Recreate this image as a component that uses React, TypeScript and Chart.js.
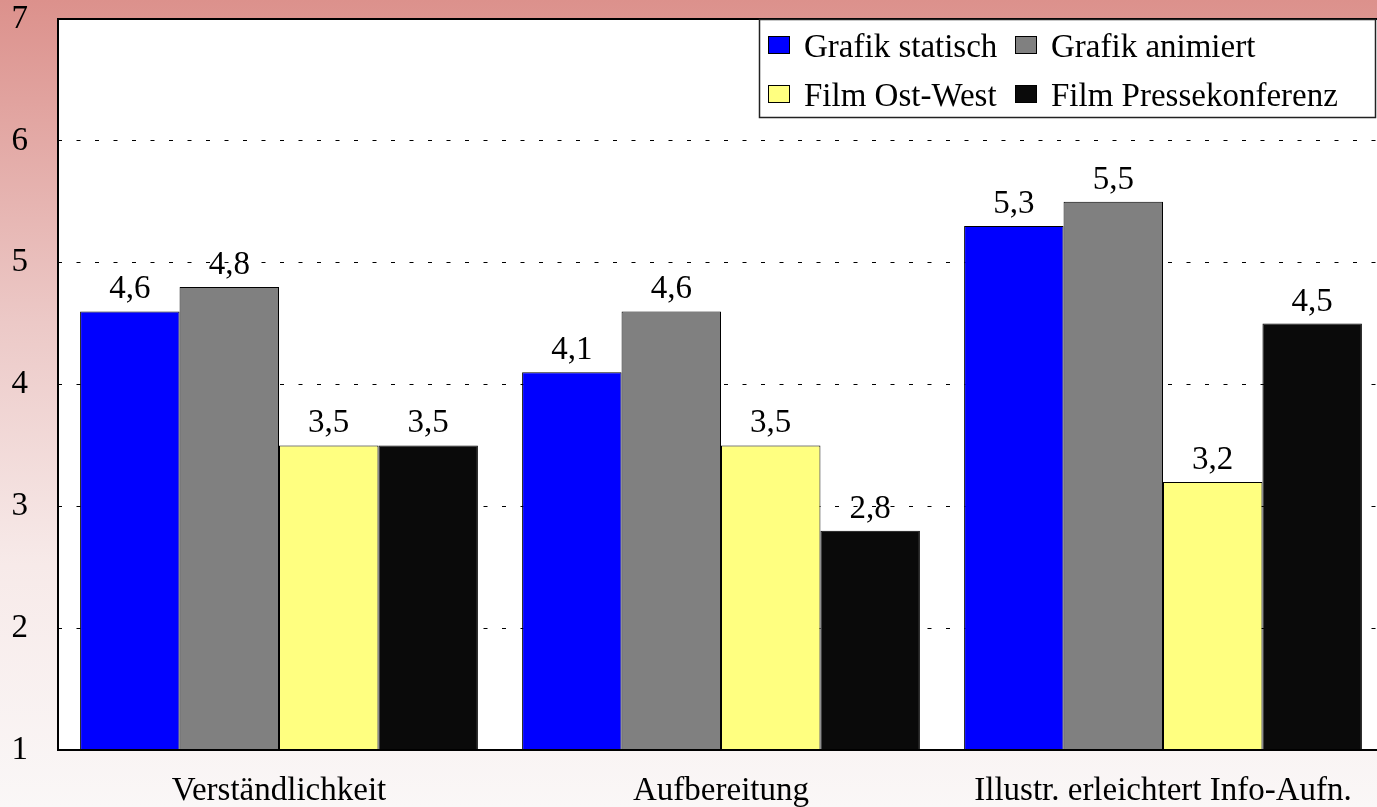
import React, { useEffect, useRef } from "react";
import { Chart, registerables } from "chart.js";

Chart.register(...registerables);

const categories = ["Verständlichkeit", "Aufbereitung", "Illustr. erleichtert Info-Aufn."];
const seriesNames = ["Grafik statisch", "Grafik animiert", "Film Ost-West", "Film Pressekonferenz"];
const grafikStatisch = [4.6, 4.1, 5.3];
const grafikAnimiert = [4.8, 4.6, 5.5];
const filmOstWest = [3.5, 3.5, 3.2];
const filmPressekonferenz = [3.5, 2.8, 4.5];
const seriesColors = ["#0000FF", "#808080", "#FFFF80", "#0A0A0A"];
const yMin = 1;
const yMax = 7;
const yStep = 1;

const FONT = "'Liberation Serif', 'Times New Roman', serif";
const FS = 33;

const fmt = (v: number) => v.toFixed(1).replace(".", ",");

const backgroundPlugin = {
  id: "bgPlugin",
  beforeDraw(chart: any) {
    const { ctx, width, height, chartArea } = chart;
    ctx.save();
    const g = ctx.createLinearGradient(0, 0, 0, height);
    g.addColorStop(0, "rgb(220,145,140)");
    g.addColorStop(0.4, "rgb(236,201,199)");
    g.addColorStop(0.7, "rgb(247,234,233)");
    g.addColorStop(1, "rgb(250,247,247)");
    ctx.fillStyle = g;
    ctx.fillRect(0, 0, width, height);
    ctx.fillStyle = "#FFFFFF";
    ctx.fillRect(chartArea.left, chartArea.top, chartArea.right - chartArea.left, chartArea.bottom - chartArea.top);
    ctx.restore();
  },
};

const overlayPlugin = {
  id: "overlayPlugin",
  afterDatasetsDraw(chart: any) {
    const { ctx, chartArea } = chart;
    ctx.save();
    // plot border
    ctx.strokeStyle = "#000";
    ctx.lineWidth = 2;
    ctx.strokeRect(chartArea.left, chartArea.top, chartArea.right - chartArea.left, chartArea.bottom - chartArea.top);
    // value labels
    ctx.fillStyle = "#000";
    ctx.font = `${FS}px ${FONT}`;
    ctx.textAlign = "center";
    ctx.textBaseline = "alphabetic";
    chart.data.datasets.forEach((ds: any, i: number) => {
      const meta = chart.getDatasetMeta(i);
      meta.data.forEach((el: any, j: number) => {
        ctx.fillText(fmt(ds.data[j]), el.x, el.y - 13);
      });
    });
    // legend
    const bx = 759.5, by = 19.5, bw = 616, bh = 98;
    ctx.fillStyle = "#FFFFFF";
    ctx.fillRect(bx, by, bw, bh);
    ctx.strokeStyle = "#222";
    ctx.lineWidth = 1.5;
    ctx.strokeRect(bx, by, bw, bh);
    const cols = [768, 1015];
    const rows = [36, 85];
    ctx.textAlign = "left";
    chart.data.datasets.forEach((ds: any, i: number) => {
      const x = cols[i % 2];
      const y = rows[Math.floor(i / 2)];
      ctx.fillStyle = ds.backgroundColor;
      ctx.fillRect(x, y, 22, 18);
      ctx.strokeStyle = "#000";
      ctx.lineWidth = 1;
      ctx.strokeRect(x + 0.5, y + 0.5, 21, 17);
      ctx.fillStyle = "#000";
      ctx.fillText(ds.label, x + 36, y + 21);
    });
    ctx.restore();
  },
};

export default function App() {
  const ref = useRef<HTMLCanvasElement | null>(null);
  useEffect(() => {
    if (!ref.current) return;
    const values = [grafikStatisch, grafikAnimiert, filmOstWest, filmPressekonferenz];
    const chart = new Chart(ref.current, {
      type: "bar",
      data: {
        labels: categories,
        datasets: seriesNames.map((name, i) => ({
          label: name,
          data: values[i],
          backgroundColor: seriesColors[i],
          borderColor: "#000",
          borderWidth: 1,
          barPercentage: 1,
          categoryPercentage: 0.9,
        })),
      },
      options: {
        animation: false,
        responsive: false,
        maintainAspectRatio: false,
        layout: { padding: { top: 19, right: 6, left: 0, bottom: 0 } },
        plugins: { legend: { display: false }, tooltip: { enabled: false } },
        scales: {
          x: {
            grid: { display: false },
            border: { display: false },
            ticks: { color: "#000", font: { family: FONT, size: FS }, padding: 14, maxRotation: 0, autoSkip: false },
            afterFit: (s: any) => { s.height = 57; s.paddingLeft = 0; s.paddingRight = 0; },
          },
          y: {
            min: yMin,
            max: yMax,
            grid: {
              drawTicks: false,
              color: (c: any) => (c.tick && (c.tick.value === yMin || c.tick.value === yMax) ? "rgba(0,0,0,0)" : "#000"),
              lineWidth: 1,
            },
            border: { display: false, dash: [4, 14.5] },
            ticks: { stepSize: yStep, color: "#000", font: { family: FONT, size: FS }, padding: 30 },
            afterFit: (s: any) => { s.width = 58; s.paddingTop = 0; s.paddingBottom = 0; },
          },
        },
      },
      plugins: [backgroundPlugin, overlayPlugin],
    });
    return () => chart.destroy();
  }, []);
  return (
    <div style={{ position: "fixed", left: 0, top: 0, width: 1390, height: 807 }}>
      <canvas ref={ref} width={1390} height={807} style={{ display: "block" }} />
    </div>
  );
}
